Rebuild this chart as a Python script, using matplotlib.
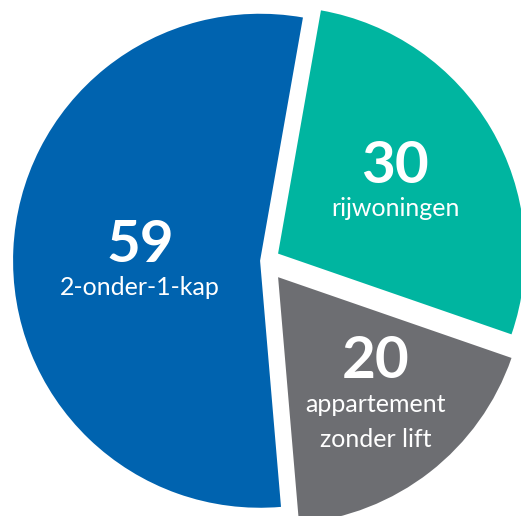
import matplotlib.pyplot as plt

# values (clockwise from the top)
values = [30, 20, 59]
numbers = ['30', '20', '59']
names = ['rijwoningen', 'appartement\nzonder lift', '2-onder-1-kap']
colors = ['#00B5A0', '#6D6E72', '#0063AF']
explode = [0.059, 0.083, 0.022]

plt.rcParams['font.family'] = ['Lato', 'DejaVu Sans']

fig = plt.figure(figsize=(5.21, 5.16), dpi=100)
ax = fig.add_axes([0, 0, 1, 1])

ax.pie(values, colors=colors, explode=explode, startangle=80,
       counterclock=False, wedgeprops={'linewidth': 0})

# pie radius is 247 px, centre at (265.5, 261) px from the top-left
R, CX, CY = 247.0, 265.5, 261.0
ax.set_xlim(-CX / R, (521 - CX) / R)
ax.set_ylim(-(516 - CY) / R, CY / R)
ax.set_aspect('auto')
ax.axis('off')


def px(x, y):
    return (x - CX) / R, (CY - y) / R


# label spots: centre x, baseline of number, baseline of first name line (px)
spots = [(395, 183, 216), (376, 378, 412), (140, 262, 295)]
for num, name, (x, yb, yn) in zip(numbers, names, spots):
    ax.text(*px(x, yb), num, ha='center', va='baseline', color='white',
            fontsize=42, fontweight='bold')
    for i, line in enumerate(name.split('\n')):
        ax.text(*px(x, yn + i * 35), line, ha='center', va='baseline',
                color='white', fontsize=18)

fig.savefig('out.png', dpi=100)
